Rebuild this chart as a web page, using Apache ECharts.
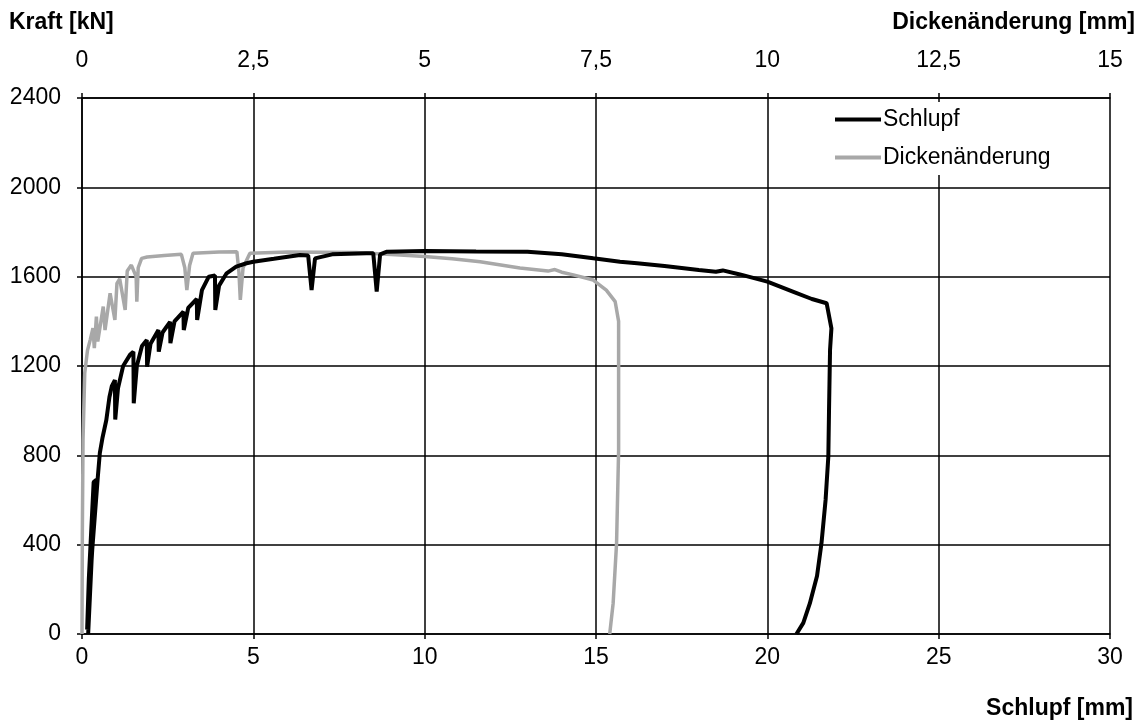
<!DOCTYPE html>
<html>
<head>
<meta charset="utf-8">
<script src="https://cdn.jsdelivr.net/npm/echarts@6/dist/echarts.min.js"></script>
<style>
  html, body { margin: 0; padding: 0; background: #fff; }
  #chart { width: 1142px; height: 723px; }
</style>
</head>
<body>
<div id="chart"></div>
<script>
// Schlupf [mm] vs Kraft [kN] (bottom axis)
const schlupf = [
  [0.18, 0], [0.28, 330], [0.42, 690], [0.34, 680], [0.2, 250], [0.15, 20], [0.3, 380], [0.46, 700],
  [0.52, 810], [0.6, 880], [0.71, 958], [0.8, 1060], [0.87, 1110], [0.96, 1137], [0.97, 960],
  [1.05, 1100], [1.2, 1200], [1.4, 1250], [1.5, 1264], [1.51, 1033], [1.6, 1200], [1.75, 1290],
  [1.89, 1316], [1.9, 1197], [2.0, 1300], [2.23, 1361], [2.24, 1264], [2.35, 1350], [2.57, 1398],
  [2.58, 1302], [2.7, 1400], [2.96, 1443], [2.97, 1361], [3.1, 1460], [3.35, 1500], [3.36, 1406],
  [3.5, 1540], [3.7, 1600], [3.88, 1605], [3.89, 1451], [4.0, 1560], [4.22, 1615], [4.5, 1645],
  [4.8, 1660], [5.0, 1667], [5.6, 1680], [6.36, 1697], [6.6, 1695], [6.7, 1540], [6.8, 1682],
  [7.3, 1700], [8.3, 1705], [8.5, 1705], [8.6, 1533], [8.7, 1700], [8.9, 1712], [10, 1715],
  [11.5, 1713], [13, 1712], [14, 1700], [14.92, 1682], [15.7, 1667], [16.2, 1660], [17, 1648],
  [18, 1630], [18.5, 1622], [18.7, 1628], [19.2, 1610], [20, 1578], [20.8, 1530], [21.3, 1500],
  [21.73, 1481], [21.87, 1369], [21.83, 1272], [21.8, 1000], [21.78, 794], [21.7, 600],
  [21.58, 406], [21.45, 260], [21.24, 137], [21.05, 50], [20.85, 0]
];

// Dickenänderung [mm] vs Kraft [kN] (top axis)
const dicke = [
  [0, 0], [0.005, 450], [0.015, 870], [0.04, 1168], [0.08, 1270], [0.12, 1317], [0.16, 1370],
  [0.18, 1280], [0.21, 1421], [0.23, 1310], [0.31, 1466], [0.336, 1361], [0.41, 1526],
  [0.48, 1406], [0.51, 1570], [0.55, 1590], [0.63, 1451], [0.66, 1625], [0.72, 1652],
  [0.79, 1600], [0.8, 1488], [0.82, 1640], [0.87, 1682], [0.95, 1688], [1.2, 1695], [1.45, 1700],
  [1.5, 1640], [1.53, 1540], [1.57, 1650], [1.62, 1705], [2.0, 1710], [2.26, 1712], [2.29, 1620],
  [2.31, 1496], [2.35, 1640], [2.45, 1705], [3, 1710], [4, 1708], [4.64, 1697], [5.0, 1690],
  [5.4, 1680], [5.81, 1667], [6.39, 1639], [6.8, 1625], [6.9, 1632], [7.0, 1620], [7.17, 1608],
  [7.46, 1585], [7.65, 1540], [7.78, 1488], [7.83, 1400], [7.83, 1242], [7.83, 824],
  [7.8, 406], [7.75, 137], [7.7, 0]
];

const font = "'Liberation Sans', Arial, sans-serif";
const fs = 23;
const chart = echarts.init(document.getElementById("chart"));

const axisLine = { show: true, onZero: false, lineStyle: { color: "#000", width: 1.5 } };
const tick = { show: true, length: 5, lineStyle: { color: "#000", width: 1.5 } };
const grid = { show: true, lineStyle: { color: "#000", width: 1.5 } };

const option = {
  animation: false,
  backgroundColor: "#fff",
  textStyle: { fontFamily: font },
  grid: { left: 82, right: 32, top: 98, bottom: 89, containLabel: false },
  legend: {
    left: 828,
    top: 102,
    orient: "vertical",
    backgroundColor: "#fff",
    padding: [6, 12, 6, 7],
    itemGap: 15,
    itemWidth: 46,
    itemHeight: 4,
    textStyle: { fontFamily: font, fontSize: fs, color: "#000", padding: [0, 0, 0, -3] },
    data: [
      { name: "Schlupf", icon: "rect" },
      { name: "Dickenänderung", icon: "rect" },
    ],
  },
  xAxis: [
    {
      type: "value",
      position: "bottom",
      min: 0,
      max: 30,
      interval: 5,
      axisLine: axisLine,
      axisTick: tick,
      axisLabel: { color: "#000", fontSize: fs, margin: 12, fontFamily: font },
      splitLine: grid,
    },
    {
      type: "value",
      position: "top",
      min: 0,
      max: 15,
      interval: 2.5,
      axisLine: axisLine,
      axisTick: tick,
      axisLabel: {
        color: "#000",
        fontSize: fs,
        margin: 26,
        fontFamily: font,
        formatter: (v) => String(v).replace(".", ","),
      },
      splitLine: { show: false },
    },
  ],
  yAxis: [
    {
      type: "value",
      min: 0,
      max: 2400,
      interval: 400,
      axisLine: axisLine,
      axisTick: tick,
      axisLabel: { color: "#000", fontSize: fs, margin: 21, fontFamily: font, formatter: (v) => String(v) },
      splitLine: grid,
    },
  ],
  series: [
    {
      name: "Schlupf",
      type: "line",
      xAxisIndex: 0,
      yAxisIndex: 0,
      symbol: "none",
      lineStyle: { color: "#000", width: 4 },
      itemStyle: { color: "#000" },
      data: schlupf,
      z: 3,
    },
    {
      name: "Dickenänderung",
      type: "line",
      xAxisIndex: 1,
      yAxisIndex: 0,
      symbol: "none",
      lineStyle: { color: "#a8a8a8", width: 3.5 },
      itemStyle: { color: "#a8a8a8" },
      data: dicke,
      z: 2,
    },
  ],
  graphic: [
    {
      type: "text",
      left: 9,
      top: 11,
      style: { text: "Kraft [kN]", fontFamily: font, fontSize: fs, fontWeight: "bold", fill: "#000" },
    },
    {
      type: "text",
      right: 7,
      top: 11,
      style: { text: "Dickenänderung [mm]", fontFamily: font, fontSize: fs, fontWeight: "bold", fill: "#000" },
    },
    {
      type: "text",
      right: 9,
      top: 697,
      style: { text: "Schlupf [mm]", fontFamily: font, fontSize: fs, fontWeight: "bold", fill: "#000" },
    },
  ],
};

chart.setOption(option);
</script>
</body>
</html>
